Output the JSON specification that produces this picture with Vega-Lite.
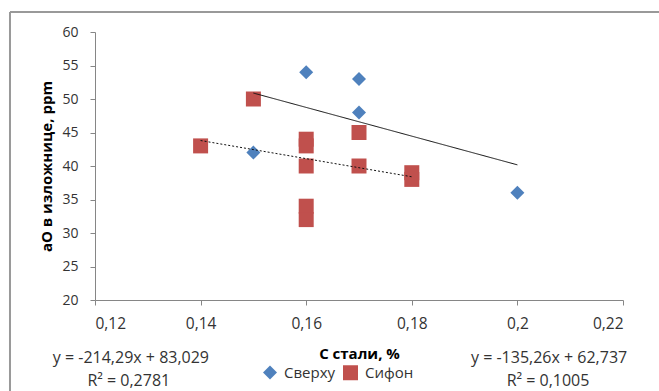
{
  "$schema": "https://vega.github.io/schema/vega-lite/v6.json",
  "width": 528,
  "height": 268,
  "autosize": "none",
  "padding": {"left": 95, "top": 32, "right": 36, "bottom": 91},
  "background": "white",
  "config": {
    "view": {"stroke": null},
    "font": "Open Sans",
    "axis": {
      "grid": false,
      "domainColor": "#868686",
      "tickColor": "#868686",
      "tickSize": 5,
      "labelFontSize": 15.5,
      "labelColor": "#333333",
      "labelOverlap": false,
      "titleFontSize": 15,
      "titleFontWeight": "bold",
      "titleColor": "#000000"
    }
  },
  "data": {
    "values": [
      {"series": "Сверху", "x": 0.15, "y": 42},
      {"series": "Сверху", "x": 0.16, "y": 54},
      {"series": "Сверху", "x": 0.17, "y": 53},
      {"series": "Сверху", "x": 0.17, "y": 48},
      {"series": "Сверху", "x": 0.2, "y": 36},
      {"series": "Сифон", "x": 0.14, "y": 43},
      {"series": "Сифон", "x": 0.15, "y": 50},
      {"series": "Сифон", "x": 0.16, "y": 44},
      {"series": "Сифон", "x": 0.16, "y": 43},
      {"series": "Сифон", "x": 0.16, "y": 40},
      {"series": "Сифон", "x": 0.16, "y": 34},
      {"series": "Сифон", "x": 0.16, "y": 32},
      {"series": "Сифон", "x": 0.17, "y": 45},
      {"series": "Сифон", "x": 0.17, "y": 40},
      {"series": "Сифон", "x": 0.18, "y": 39},
      {"series": "Сифон", "x": 0.18, "y": 38}
    ]
  },
  "layer": [
    {
      "mark": {"type": "point", "filled": true, "opacity": 1},
      "encoding": {
        "x": {
          "field": "x", "type": "quantitative",
          "scale": {"domain": [0.12, 0.22], "nice": false, "zero": false},
          "axis": {"values": [0.12, 0.14, 0.16, 0.18, 0.2, 0.22], "labelExpr": "replace(format(datum.value, '.2~f'), '.', ',')", "labelPadding": 11, "title": "С стали, %", "titlePadding": 15}
        },
        "y": {
          "field": "y", "type": "quantitative",
          "scale": {"domain": [20, 60], "nice": false, "zero": false},
          "axis": {"values": [20, 25, 30, 35, 40, 45, 50, 55, 60], "tickCount": 9, "labelOverlap": false, "labelFontSize": 14, "labelPadding": 12, "title": "аО в изложнице, ppm", "titlePadding": 7}
        },
        "color": {
          "field": "series", "type": "nominal",
          "scale": {"domain": ["Сверху", "Сифон"], "range": ["#4F81BD", "#C0504D"]},
          "legend": {
            "orient": "none",
            "legendX": 167,
            "legendY": 332,
            "title": null,
            "direction": "horizontal",
            "labelFontSize": 15,
            "labelColor": "#333333",
            "symbolSize": 90,
            "columnPadding": 6,
            "labelOffset": 6,
            "padding": 0
          }
        },
        "shape": {
          "field": "series", "type": "nominal",
          "scale": {"domain": ["Сверху", "Сифон"], "range": ["diamond", "square"]}
        },
        "size": {
          "field": "series", "type": "nominal",
          "scale": {"domain": ["Сверху", "Сифон"], "range": [196, 225]},
          "legend": null
        }
      }
    },
    {
      "transform": [{"regression": "y", "on": "x", "groupby": ["series"]}],
      "mark": {"type": "line", "color": "#111111", "strokeWidth": 1},
      "encoding": {
        "x": {"field": "x", "type": "quantitative"},
        "y": {"field": "y", "type": "quantitative"},
        "detail": {"field": "series", "type": "nominal"},
        "strokeDash": {
          "field": "series", "type": "nominal",
          "scale": {"domain": ["Сверху", "Сифон"], "range": [[1, 0], [2, 2]]},
          "legend": null
        }
      }
    },
    {
      "data": {"values": [{}]},
      "mark": {"type": "text", "fontSize": 16, "color": "#333333", "align": "center", "baseline": "middle"},
      "encoding": {"x": {"datum": 0.1268, "type": "quantitative"}, "y": {"datum": 11.34, "type": "quantitative"}, "text": {"value": "y = -214,29x + 83,029"}}
    },
    {
      "data": {"values": [{}]},
      "mark": {"type": "text", "fontSize": 16, "color": "#333333", "align": "center", "baseline": "middle"},
      "encoding": {"x": {"datum": 0.1264, "type": "quantitative"}, "y": {"datum": 7.91, "type": "quantitative"}, "text": {"value": "R² = 0,2781"}}
    },
    {
      "data": {"values": [{}]},
      "mark": {"type": "text", "fontSize": 16, "color": "#333333", "align": "center", "baseline": "middle"},
      "encoding": {"x": {"datum": 0.2060, "type": "quantitative"}, "y": {"datum": 11.34, "type": "quantitative"}, "text": {"value": "y = -135,26x + 62,737"}}
    },
    {
      "data": {"values": [{}]},
      "mark": {"type": "text", "fontSize": 16, "color": "#333333", "align": "center", "baseline": "middle"},
      "encoding": {"x": {"datum": 0.2058, "type": "quantitative"}, "y": {"datum": 7.91, "type": "quantitative"}, "text": {"value": "R² = 0,1005"}}
    },
    {
      "data": {"values": [{}]},
      "mark": {"type": "rule", "color": "#999999", "strokeWidth": 2},
      "encoding": {"x": {"datum": 0.1039, "type": "quantitative"}, "x2": {"datum": 0.24}, "y": {"datum": 62.985, "type": "quantitative"}}
    },
    {
      "data": {"values": [{}]},
      "mark": {"type": "rule", "color": "#999999", "strokeWidth": 2},
      "encoding": {"x": {"datum": 0.1039, "type": "quantitative"}, "y": {"datum": 62.985, "type": "quantitative"}, "y2": {"datum": 0}}
    }
  ]
}
